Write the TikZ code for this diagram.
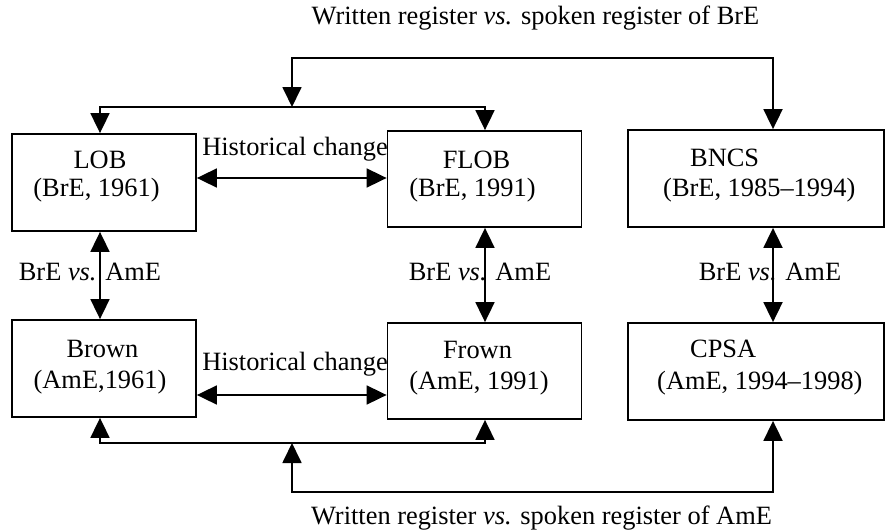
\documentclass[tikz,border=0pt]{standalone}
\usepackage{fontspec}
\setmainfont{Liberation Serif}
\usetikzlibrary{arrows.meta}
\begin{document}
\begin{tikzpicture}[x=1pt,y=-1pt,
  lw/.style={line width=1.8pt},
  tri/.tip={Triangle[length=20pt,width=19pt]},
  box/.style={draw,lw,rectangle,inner sep=0pt,fill=white},
  txt/.style={inner sep=0pt,font=\fontsize{26.4}{30}\selectfont},
  conn/.style={lw,line join=miter}
]
\useasboundingbox (0,0) rectangle (885,530);
% boxes
\node[box,minimum width=184pt,minimum height=97pt] (lob)   at (104,182.5) {};
\node[box,minimum width=194pt,minimum height=96pt] (flob)  at (484.5,179) {};
\node[box,minimum width=256pt,minimum height=97pt] (bncs)  at (756,178.5) {};
\node[box,minimum width=184pt,minimum height=97pt] (brown) at (104,368.5) {};
\node[box,minimum width=194pt,minimum height=96pt] (frown) at (484.5,371) {};
\node[box,minimum width=256pt,minimum height=97pt] (cpsa)  at (756,371.5) {};
% box texts
\node[txt,anchor=base] (lob1) at (100,168) {LOB};
\node[txt,anchor=base] (lob2) at (96.5,196) {(BrE, 1961)};
\node[txt,anchor=base] (flob1) at (476.5,168) {FLOB};
\node[txt,anchor=base] (flob2) at (472.5,196) {(BrE, 1991)};
\node[txt,anchor=base west] (bncs1) at (690,166) {BNCS};
\node[txt,anchor=base west] (bncs2) at (663,196) {(BrE, 1985–1994)};
\node[txt,anchor=base] (brown1) at (102.5,357.5) {Brown};
\node[txt,anchor=base] (brown2) at (100,388) {(AmE,1961)};
\node[txt,anchor=base] (frown1) at (477.5,358) {Frown};
\node[txt,anchor=base] (frown2) at (479,389) {(AmE, 1991)};
\node[txt,anchor=base west] (cpsa1) at (690,357) {CPSA};
\node[txt,anchor=base west] (cpsa2) at (657,389) {(AmE, 1994–1998)};
% labels
\node[txt,anchor=base] (toplbl) at (535.5,24) {Written register \textit{vs.} spoken register of BrE};
\node[txt,anchor=base] (botlbl) at (541.5,524) {Written register \textit{vs.} spoken register of AmE};
\node[txt,anchor=base] (hist1) at (295,155.5) {Historical change};
\node[txt,anchor=base] (hist2) at (295,370) {Historical change};
\node[txt,anchor=base] (ba1) at (90,280.5) {BrE \textit{vs.} AmE};
\node[txt,anchor=base] (ba2) at (480,280.5) {BrE \textit{vs.} AmE};
\node[txt,anchor=base] (ba3) at (770,280) {BrE \textit{vs.} AmE};
% coordinates
\coordinate (t1) at (292,58);
\coordinate (t2) at (773,58);
\coordinate (t3) at (292,107);
\coordinate (t4) at (100,107);
\coordinate (t5) at (485,107);
\coordinate (h1) at (292,178);
\coordinate (h2) at (292,395);
\coordinate (b1) at (292,443);
\coordinate (b2) at (292,492);
\coordinate (b3) at (773,492);
\coordinate (b4) at (100,443);
\coordinate (b5) at (485,443);
% top connectors
\draw[conn,tri-tri] (t3) -- (t1) -- (t2) -- (t2 |- bncs.north);
\draw[conn,-tri] (t3) -- (t4) -- (t4 |- lob.north);
\draw[conn,-tri] (t3) -- (t5) -- (t5 |- flob.north);
% vertical
\draw[conn,tri-tri] (t4 |- lob.south) -- (t4 |- brown.north);
\draw[conn,tri-tri] (t5 |- flob.south) -- (t5 |- frown.north);
\draw[conn,tri-tri] (t2 |- bncs.south) -- (t2 |- cpsa.north);
% historical change
\draw[conn,tri-tri] (lob.east |- h1) -- (flob.west |- h1);
\draw[conn,tri-tri] (brown.east |- h2) -- (frown.west |- h2);
% bottom connectors
\draw[conn,tri-tri] (b1) -- (b2) -- (b3) -- (b3 |- cpsa.south);
\draw[conn,-tri] (b1) -- (b4) -- (b4 |- brown.south);
\draw[conn,-tri] (b1) -- (b5) -- (b5 |- frown.south);
\end{tikzpicture}
\end{document}
